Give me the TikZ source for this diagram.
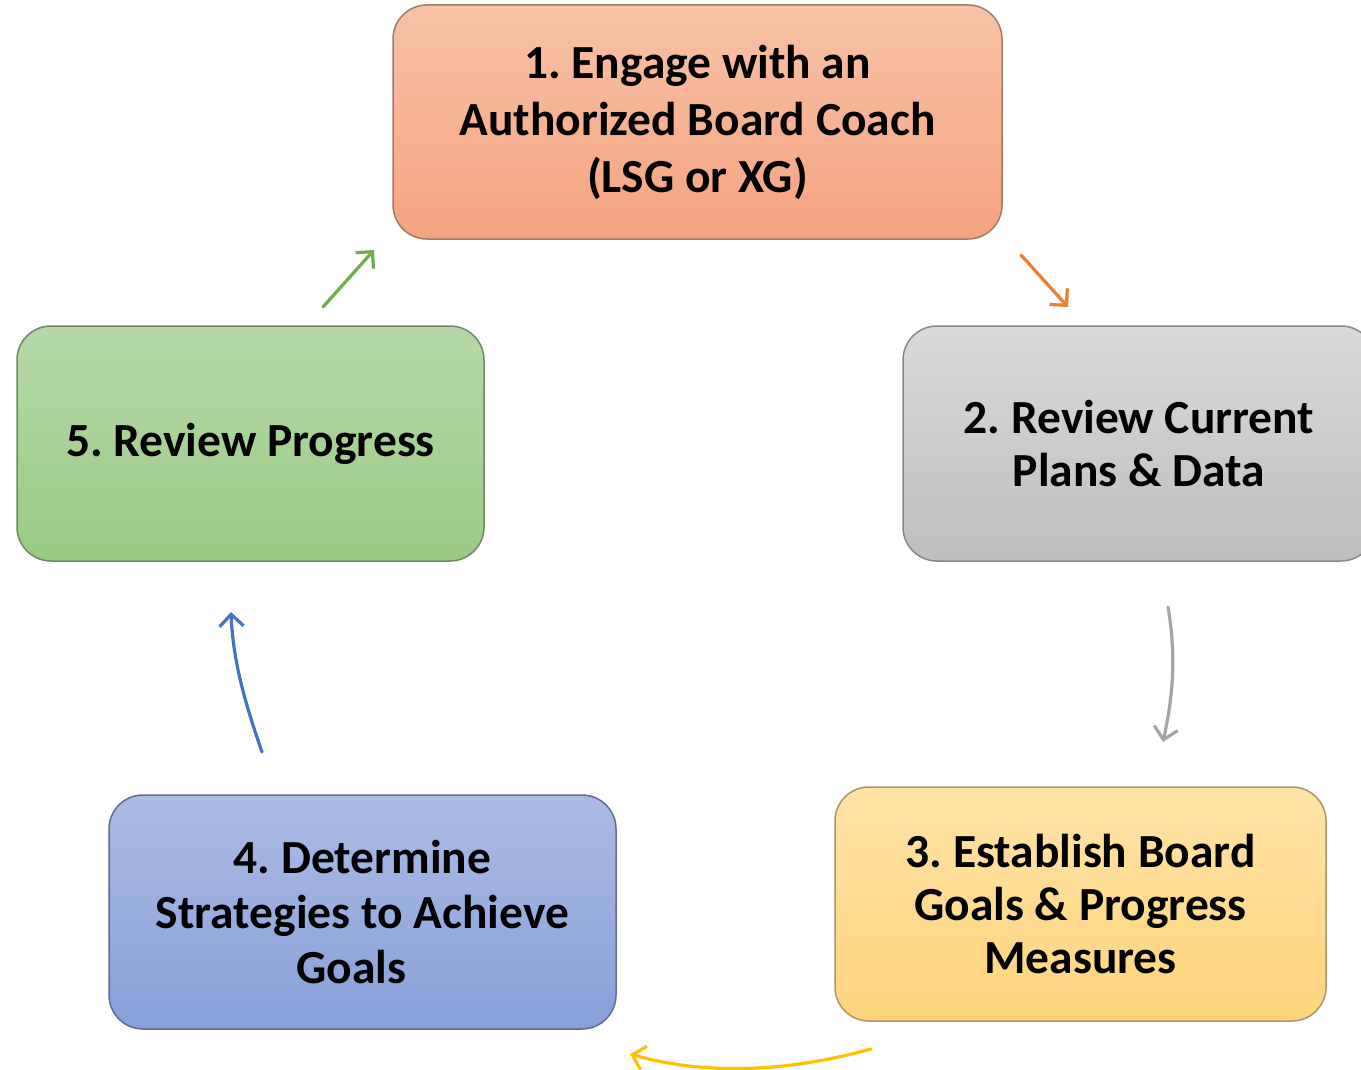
\documentclass[tikz,border=0pt]{standalone}
\usepackage{fontspec}
\setmainfont{Carlito}
\usetikzlibrary{arrows.meta}
\frenchspacing
\definecolor{orT}{HTML}{F8C2A6}
\definecolor{orB}{HTML}{F4A380}
\definecolor{orD}{HTML}{A27A68}
\definecolor{grT}{HTML}{DADADA}
\definecolor{grB}{HTML}{BEBEBE}
\definecolor{grD}{HTML}{888888}
\definecolor{yeT}{HTML}{FFE3A6}
\definecolor{yeB}{HTML}{FFD47C}
\definecolor{yeD}{HTML}{A8956A}
\definecolor{blT}{HTML}{ABBBE4}
\definecolor{blB}{HTML}{87A0D9}
\definecolor{blD}{HTML}{5F6D95}
\definecolor{gnT}{HTML}{B6D8A9}
\definecolor{gnB}{HTML}{9ACA84}
\definecolor{gnD}{HTML}{6E8A63}
\definecolor{aOr}{HTML}{ED7D31}
\definecolor{aGn}{HTML}{70AD47}
\definecolor{aGr}{HTML}{A5A5A5}
\definecolor{aYe}{HTML}{FFC000}
\definecolor{aBl}{HTML}{4472C4}
\begin{document}
\begin{tikzpicture}[x=1pt,y=-1pt,
  box/.style={rounded corners=34pt, line width=1.5pt, align=center,
    inner sep=0pt, font=\bfseries\fontsize{47.5}{53}\selectfont},
  conn/.style={line width=3.2pt, line cap=round,
    -{Straight Barb[length=12pt,width=24pt,line width=3.2pt]}}]
\useasboundingbox (0,0) rectangle (1361,1070);
\clip (0,0) rectangle (1361,1070);
\node[box, minimum width=609pt, minimum height=234pt, top color=orT, bottom color=orB, draw=orD,
  font=\bfseries\fontsize{47.5}{57}\selectfont] (n1) at (697.5,122)
  {1. Engage with an\\Authorized Board Coach\\(LSG or XG)};
\node[box, minimum width=472pt, minimum height=235pt, top color=grT, bottom color=grB, draw=grD] (n2) at (1139,443.5)
  {2. Review Current\\Plans \& Data};
\node[box, minimum width=491pt, minimum height=234pt, top color=yeT, bottom color=yeB, draw=yeD] (n3) at (1080.5,904)
  {3. Establish Board\\Goals \& Progress\\Measures};
\node[box, minimum width=507pt, minimum height=234pt, top color=blT, bottom color=blB, draw=blD,
  font=\bfseries\fontsize{47.5}{55}\selectfont] (n4) at (362.5,912)
  {4. Determine\\Strategies to Achieve\\Goals\hspace*{22pt}};
\node[box, minimum width=467pt, minimum height=235pt, top color=gnT, bottom color=gnB, draw=gnD] (n5) at (250.5,443.5)
  {5. Review Progress};
\coordinate (o1) at (1021,255);
\coordinate (o2) at (1068,307);
\coordinate (g1) at (1168,607);
\coordinate (g2) at (1163,742);
\coordinate (y1) at (871,1049);
\coordinate (y2) at (630,1054);
\coordinate (b1) at (262,752);
\coordinate (b2) at (231,612);
\coordinate (e1) at (323,307);
\coordinate (e2) at (374,250);
\draw[conn, aOr] (o1) -- (o2);
\draw[conn, aGr] (g1) .. controls (1177,660) and (1172,700) .. (g2);
\draw[conn, aYe] (y1) .. controls (780,1074) and (700,1074) .. (y2);
\draw[conn, aBl] (b1) .. controls (244,700) and (233,660) .. (b2);
\draw[conn, aGn] (e1) -- (e2);
\end{tikzpicture}
\end{document}
